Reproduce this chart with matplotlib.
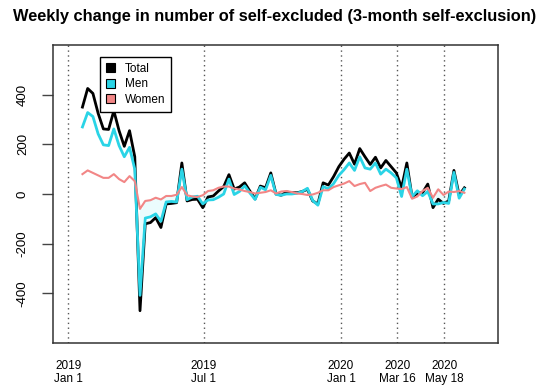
import matplotlib
matplotlib.use("Agg")
import matplotlib.pyplot as plt
import matplotlib.dates as mdates
from matplotlib.patches import Patch
import numpy as np
import pandas as pd

plt.rcParams['font.family'] = ['Liberation Sans', 'DejaVu Sans']

# ---- data ----
start_date = "2019-01-20"
n_weeks = 74

total = [350, 425, 405, 325, 262, 260, 335, 255, 192, 255, 150, -470,
         -120, -115, -95, -135, -40, -38, -35, 125, -28,
         -22, -21, -55, -12, -8, 12, 30, 78, 20, 28, 45, 12, -20, 32, 25, 85, 0, -5, 8,
         5, 5, 10, 19, -28, -40, 45, 36, 70, 110, 140, 165, 120, 183, 150, 119, 148, 105, 135, 110,
         85, 25, 125, -12, 3, 5, 40, -55, -21, -38, -28, 95, -5, 25]

men = [270, 328, 312, 242, 198, 195, 262, 195, 150, 188, 100, -408,
       -97, -92, -80, -110, -32, -30, -32, 100, -23,
       -12, -9, -40, -24, -23, -13, 0, 60, -2, 10, 33, 4, -22, 27, 17, 75, -2, -5, 0,
       0, 3, 10, 23, -26, -45, 30, 21, 42, 75, 98, 125, 95, 150, 105, 100, 125, 80, 100, 85,
       65, -10, 100, -10, 13, -7, 10, -40, -40, -34, -38, 87, -17, 20]

women = [80, 95, 85, 75, 65, 65, 80, 60, 48, 72, 52, -60,
         -28, -25, -15, -22, -8, -8, -3, 28, -5,
         -10, -12, -5, 12, 15, 25, 30, 30, 22, 18, 12, 8, 2, 5, 8, 15, 2, 10, 12,
         8, 2, 0, -4, -2, 5, 15, 15, 28, 35, 42, 52, 32, 40, 45, 12, 25, 32, 38, 25,
         22, 20, 28, -19, -10, 12, 25, -15, 19, -4, 10, 8, 12, 5]

event_dates = ["2019-01-01", "2019-07-01", "2020-01-01", "2020-03-16", "2020-05-18"]
event_labels = ["2019\nJan 1", "2019\nJul 1", "2020\nJan 1", "2020\nMar 16", "2020\nMay 18"]

title = "Weekly change in number of self-excluded (3-month self-exclusion)"
series_names = ["Total", "Men", "Women"]
series_colors = ["#000000", "#2ad4e6", "#f28686"]

# ---- plot ----
dates = pd.date_range(start_date, periods=n_weeks, freq="7D")
ev = pd.to_datetime(event_dates)

fig = plt.figure(figsize=(5.5, 3.87), dpi=100)
ax = fig.add_axes([0.0969, 0.1137, 0.8086, 0.77])

men_a = np.array(men, dtype=float)
wom_a = np.array(women, dtype=float)
ax.fill_between(dates, men_a, wom_a, where=men_a < wom_a, step="mid",
                color="#ebfcfd", linewidth=0, zorder=1)

for d in ev:
    ax.axvline(d, color="#555555", linestyle=(0, (1, 2.5)), linewidth=1.0, zorder=2)

ax.plot(dates, total, color=series_colors[0], linewidth=2.0, zorder=3)
ax.plot(dates, men, color=series_colors[1], linewidth=2.0, zorder=4)
ax.plot(dates, women, color=series_colors[2], linewidth=1.5, zorder=5)

ax.set_ylim(-600, 600)
ax.set_xlim(pd.Timestamp("2019-01-01") - pd.Timedelta(days=20),
            pd.Timestamp("2019-01-01") + pd.Timedelta(days=575))

ax.set_yticks([-400, -200, 0, 200, 400])
ax.set_yticklabels(["-400", "-200", "0", "200", "400"], rotation=90, va="center", fontsize=9.5)
ax.tick_params(axis="y", length=7.6, width=1.0, color="#444444", pad=10)

ax.set_xticks(ev)
ax.set_xticklabels(event_labels, fontsize=8.5, linespacing=1.2)
ax.tick_params(axis="x", length=0, pad=12)

for s in ax.spines.values():
    s.set_color("#333333")
    s.set_linewidth(1.1)

handles = [Patch(facecolor=c, edgecolor="black", linewidth=0.8) for c in series_colors]
leg = ax.legend(handles, series_names, loc="upper left", bbox_to_anchor=(0.105, 0.96),
                fontsize=8.5, frameon=True, fancybox=False, edgecolor="black",
                framealpha=1, handlelength=0.8, handleheight=0.8, handletextpad=0.8,
                labelspacing=0.3, borderpad=0.5, borderaxespad=0)
leg.get_frame().set_linewidth(1.0)

fig.text(0.5, 1 - 16 / 387, title, ha="center", va="center", fontsize=11.8, fontweight="bold")

fig.savefig("out.png", dpi=100)
